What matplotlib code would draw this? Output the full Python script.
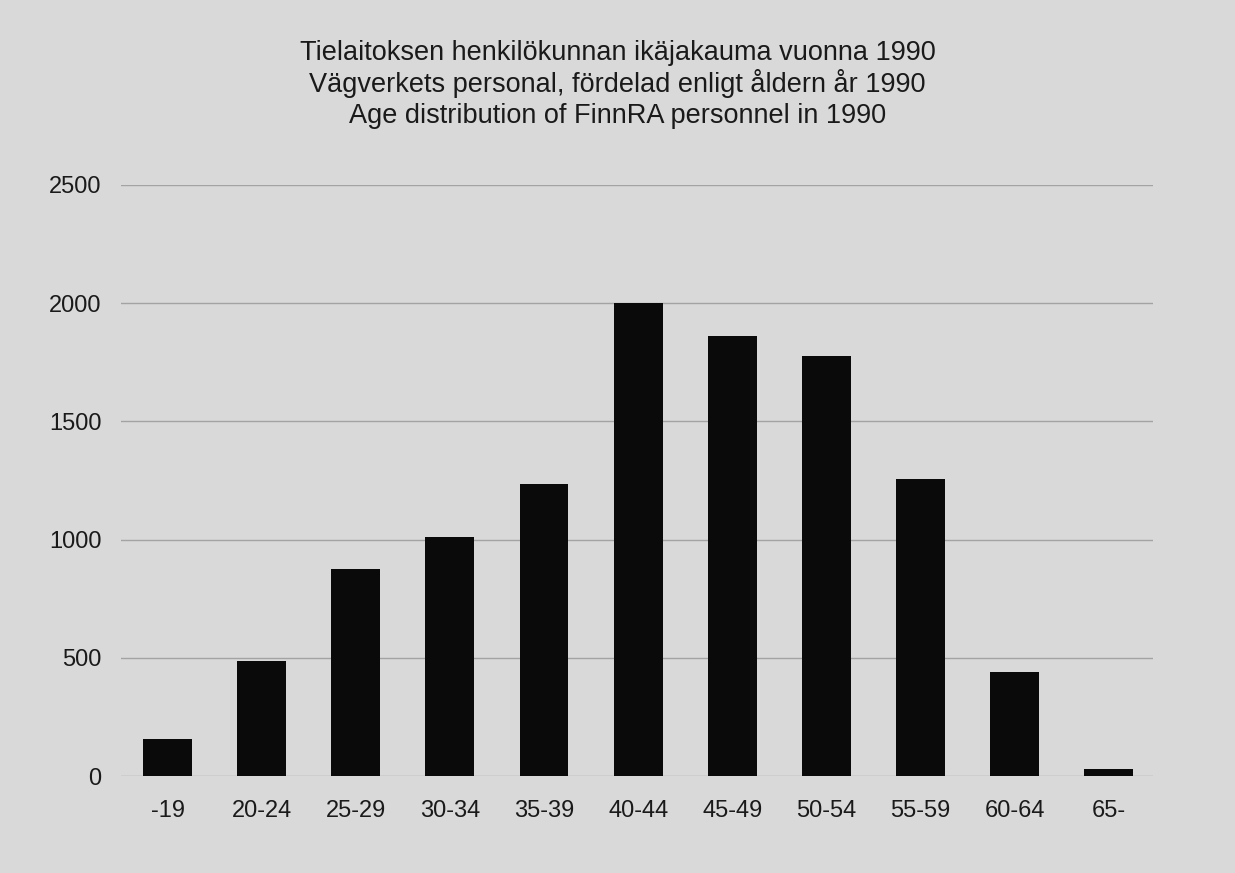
import matplotlib
matplotlib.use("Agg")
import matplotlib.pyplot as plt

categories = ["-19", "20-24", "25-29", "30-34", "35-39", "40-44",
              "45-49", "50-54", "55-59", "60-64", "65-"]
values = [156, 486, 875, 1012, 1235, 2000, 1862, 1776, 1255, 442, 28]
yticks = [0, 500, 1000, 1500, 2000, 2500]
title_lines = ["Tielaitoksen henkilökunnan ikäjakauma vuonna 1990",
               "Vägverkets personal, fördelad enligt åldern år 1990",
               "Age distribution of FinnRA personnel in 1990"]

plt.rcParams['font.family'] = ['Liberation Sans', 'DejaVu Sans']
bg = "#d9d9d9"

fig = plt.figure(figsize=(12.35, 8.73), dpi=100, facecolor=bg)
ax = fig.add_axes([0.098, 0.1111, 0.9336 - 0.098, 0.7881 - 0.1111])
ax.set_facecolor(bg)

x = range(len(categories))
ax.bar(x, values, width=0.52, color="#0a0a0a", zorder=3)

ax.set_xlim(-0.494, len(categories) - 1 + 0.47)
ax.set_ylim(0, 2500)
ax.set_yticks(yticks)
ax.set_yticklabels([str(v) for v in yticks])
ax.set_xticks(list(x))
ax.set_xticklabels(categories)
ax.grid(axis='y', color="#a3a3a3", linewidth=1.0, zorder=0)
ax.set_axisbelow(True)
for s in ax.spines.values():
    s.set_visible(False)
ax.tick_params(axis='both', length=0, labelsize=17, colors="#1a1a1a")
ax.tick_params(axis='y', pad=14)
ax.tick_params(axis='x', pad=17)

H = 873
for i, (line, base) in enumerate(zip(title_lines, [60, 92, 123])):
    fig.text(0.5, 1 - base / H, line, ha='center', va='baseline',
             fontsize=19.5, color="#1a1a1a")

fig.savefig("out.png", dpi=100, facecolor=bg)
